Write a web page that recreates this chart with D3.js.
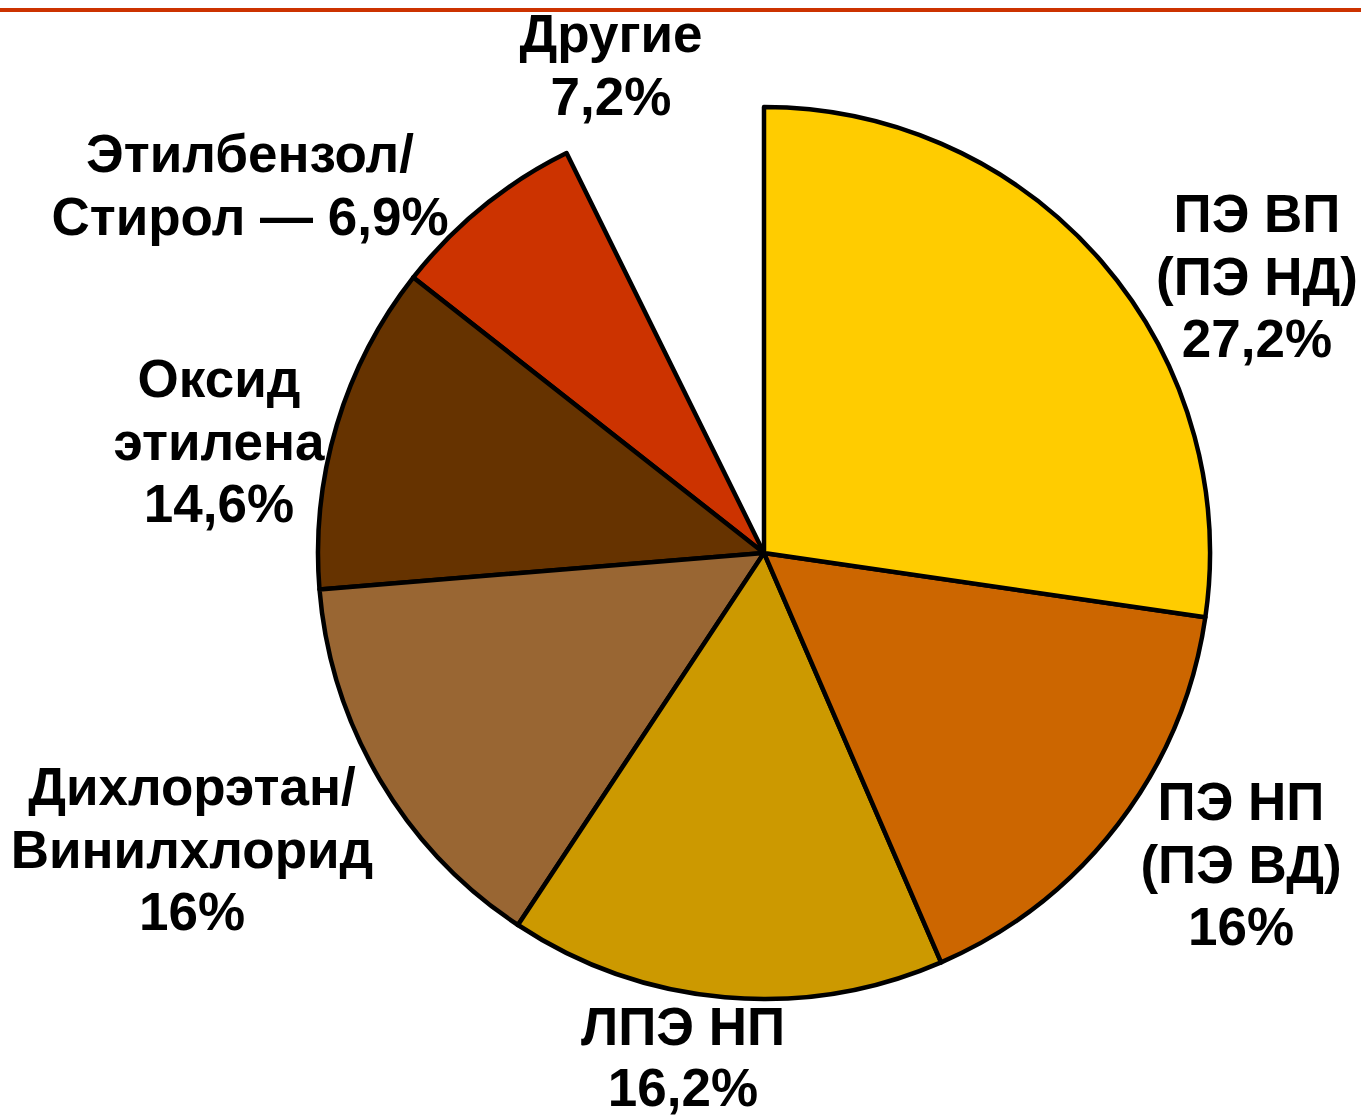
<!DOCTYPE html>
<html>
<head>
<meta charset="utf-8">
<script src="https://cdn.jsdelivr.net/npm/d3@7"></script>
<style>
  body { margin: 0; background: #fff; }
  svg { display: block; }
  text { font-family: "Liberation Sans", Arial, sans-serif; font-weight: bold; }
</style>
</head>
<body>
<script>
// slice names, label lines and shares
const categories = ['ПЭ ВП', 'ПЭ НП', 'ЛПЭ НП', 'Дихлорэтан/Винилхлорид', 'Оксид этилена', 'Этилбензол/Стирол', 'Другие'];
const shares = [27.3, 16.2, 15.8, 14.4, 11.9, 7.1, 7.3];
const labelLines = [
  ['ПЭ ВП', '(ПЭ НД)', '27,2%'],
  ['ПЭ НП', '(ПЭ ВД)', '16%'],
  ['ЛПЭ НП', '16,2%'],
  ['Дихлорэтан/', 'Винилхлорид', '16%'],
  ['Оксид', 'этилена', '14,6%'],
  ['Этилбензол/', 'Стирол — 6,9%'],
  ['Другие', '7,2%']
];
// label anchor (x center, first baseline)
const labelPos = [[1257, 232], [1241, 820], [683, 1045], [192, 805], [219, 397], [250, 172], [611, 52]];
const colors = ['#FFCC00', '#CC6600', '#CC9900', '#996633', '#663300', '#CC3300', '#FFFFFF'];

const width = 1361, height = 1118;
const cx = 764, cy = 553, radius = 446;
const lineH = 61;

const data = categories.map((c, i) => ({name: c, value: shares[i], lines: labelLines[i], pos: labelPos[i], color: colors[i]}));

const svg = d3.select('body').append('svg')
  .attr('width', width)
  .attr('height', height);

// red rule at top of the slide
svg.append('rect')
  .attr('x', 0).attr('y', 8)
  .attr('width', width).attr('height', 4)
  .attr('fill', '#CC3300');

const pie = d3.pie().sort(null).value(d => d.value);
const arc = d3.arc().innerRadius(0).outerRadius(radius);

const arcs = pie(data);
// draw the white "other" slice first so its neighbours' borders sit on top
const order = arcs.slice().sort((a, b) => (a.data.name === 'Другие') - (b.data.name === 'Другие')).reverse();

svg.append('g')
  .attr('transform', `translate(${cx},${cy})`)
  .selectAll('path')
  .data(order)
  .join('path')
    .attr('d', arc)
    .attr('fill', d => d.data.color)
    .attr('stroke', d => d.data.name === 'Другие' ? 'none' : '#000')
    .attr('stroke-width', 4.5)
    .attr('stroke-linejoin', 'round');

const labels = svg.append('g')
  .selectAll('text')
  .data(data)
  .join('text')
    .attr('text-anchor', 'middle')
    .attr('font-size', 53)
    .attr('fill', '#000');

labels.selectAll('tspan')
  .data(d => d.lines.map((l, j) => ({text: l, x: d.pos[0], y: d.pos[1] + j * (d.lines.length === 2 && d.pos[1] > 1000 ? lineH : 62.5)})))
  .join('tspan')
    .attr('x', d => d.x)
    .attr('y', d => d.y)
    .text(d => d.text);
</script>
</body>
</html>
